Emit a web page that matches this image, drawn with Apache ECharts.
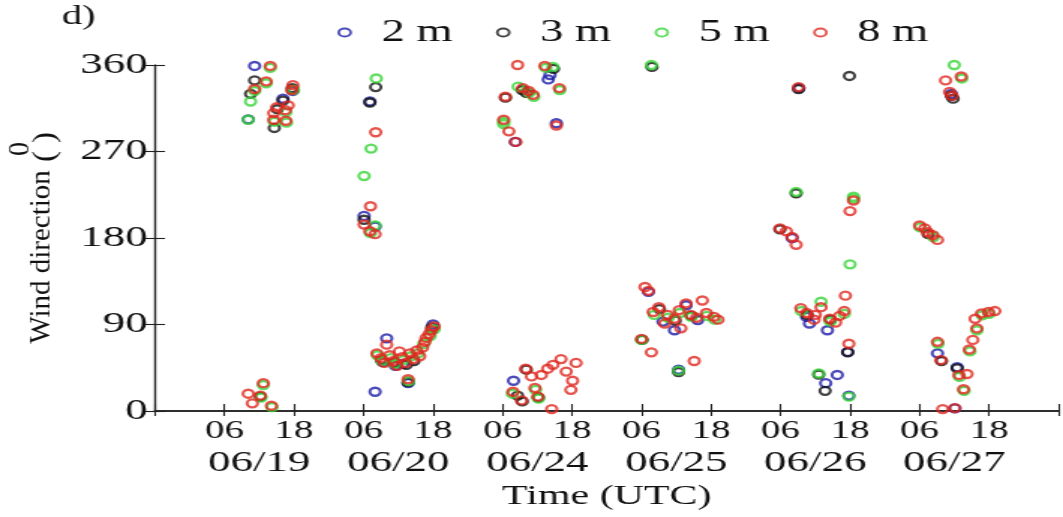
<!DOCTYPE html>
<html>
<head>
<meta charset="utf-8">
<script src="https://cdn.jsdelivr.net/npm/echarts@6/dist/echarts.min.js"></script>
<style>
  html, body { margin: 0; padding: 0; background: #fff; }
  #wrap { width: 1063px; height: 517px; overflow: hidden; position: relative; }
  #chart { width: 709px; height: 517px; transform-origin: 0 0; }
</style>
</head>
<body>
<div id="wrap"><div id="chart"></div></div>
<script>
// Day labels on the time axis (each day spans 24 h of the axis)
const dates = ['06/19', '06/20', '06/24', '06/25', '06/26', '06/27'];
const hourTicks = ['06', '18'];
const heights = ['2 m', '3 m', '5 m', '8 m'];
const colors = ['#1c1ca8', '#111111', '#36d436', '#e0281f'];

// [axis hour, wind direction in degrees]; axis hour 0 = 18 UTC before 06/19,
// each plotted day occupies 24 h, so 06 UTC of day k is 12 + 24k.
const dir2m = [
  [17.2,359],[16.1,303.5],[23.8,333],[22.1,325],
  [37.1,322],[36.1,203],[38.0,192],[38,20],[40,75.6],[39.3,51],[41.5,47],[42.8,49],[43.7,29],[48,90],
  [68.2,349.6],[67.9,345],[62.2,280],[69.3,299.4],[61.9,31.5],
  [85.2,124],[87.7,93],[89.7,84],[93.7,94.7],[91.7,110],[90.4,43],
  [111.2,336],[110,180],[112.5,98],[113,91],[116.1,84],[119.6,61.5],[117.8,37.5],[115.8,29],[119.8,16],
  [137.5,330],[135.1,60],[138.5,45.5],[138.1,2.8]
];
const dir3m = [
  [17.2,344],[16.5,330],[23.7,336],[22.1,323],[21.1,314],[20.6,294.5],[18.2,15],
  [38.1,337],[37.1,321],[36.1,199],[39.1,53],[41.3,50],[43.4,48],[44.7,52],[43.7,30],[47.8,87],
  [68.8,356],[63.4,334],[64.1,331],[60.5,326],[62.6,16],[63.4,10],[64.1,43],[66.2,14],
  [85.8,358],[84.1,74],[87.1,106],[90.4,40.5],[92.6,99],[89.8,94],
  [111.1,335],[119.9,348.6],[110.7,226.5],[107.9,189],[112.6,100],[116.6,95],[119.6,61],[114.6,38],[115.7,21],
  [137.5,328],[137.8,325],[133.5,184],[135.8,52],[138.5,44.4]
];
const dir5m = [
  [19.9,357],[19.2,341],[17.2,333],[16.5,322],[16.1,303],[23.9,334],[22.6,311],[20.6,301],[22.7,300],[18.7,27],[18.3,14],[20.2,4],
  [38.2,346],[37.3,273],[36.1,244.5],[38.0,193],[37.2,185],[38.4,58],[39.2,52],[40.7,55],[41.4,49],[42.9,53],[44.2,57],[45.4,60],[43.8,31],[46.4,70],[47.5,78],[48.2,85],
  [67.5,357],[68.7,358],[62.7,337.5],[64.6,331],[65.4,327],[69.9,334],[60.2,301],[60.2,298.6],[61.7,18],[65.7,22],[66.2,13],
  [85.7,360],[84,74],[86.2,100],[88.6,97],[90.6,102],[92.6,98],[95.3,99],[96.6,95],[90.4,42],
  [110.7,228],[120.6,223],[120.6,221],[120,152.6],[111.6,104],[115,113.7],[116.6,93],[119,101],[114.6,39],[119.8,15],
  [138,360],[139.3,346],[132.1,191],[134.4,181],[135.2,70],[138.9,35.5],[139.7,21],[140.7,62],[141.9,84],[142.8,99.6],[144,101]
];
const dir8m = [
  [19.9,359],[19.2,343],[17.2,335],[23.8,339],[23.6,334],[21.0,316],[22.5,313],[20.5,310],[23.0,318],[20.5,303],[22.6,302],
  [18.7,29],[16.1,18],[18.2,16],[16.8,8],[20.1,5.5],
  [38.1,290],[37.2,213],[36.1,194],[37.1,187],[38.0,184],
  [40,69],[38.3,60],[39,55],[39.6,50],[40.5,58],[41.2,52],[41.8,47],[42.2,62],[42.7,56],[43.3,50],[44,60],[44.6,54],
  [45.2,63],[45.7,57],[46.2,66],[46.6,72],[43.7,33],[47.3,80],[47.7,84],[48.2,88],[46.8,76],
  [62.6,360],[67.3,359],[63.5,336],[64.5,333],[65.3,329],[60.5,327],[69.8,336],[60.2,303],[61.1,291],[62.3,280],[69.3,297],
  [61.8,20],[63.3,11],[64,44],[65,36],[65.6,24],[66.1,15],[66.7,37.5],[67.8,44],[68.7,48],[68.5,2],[70.1,54],[71,41],[72.1,31.5],[71.8,22],[72.7,50],
  [84.6,129],[85.2,125],[84,75],[85.7,61],[86,103],[87,108],[88.5,100],[89.7,96],[90.5,105],[91.7,112],[92.5,100],
  [93.5,97],[94.5,115],[95.2,102],[96.5,98],[97.2,95],[88,91],[90.8,86],[93.1,52],
  [111.1,337],[120.6,219],[120,208],[107.9,190],[109,187],[110,181],[110.7,173],
  [119.2,120],[111.5,107],[112.5,102],[114,100],[115,108],[116.5,96],[117.5,92],[118.2,99],[119,104],[113.8,95],[119.8,70],
  [139.2,348],[136.5,344],[137.2,332],[137.6,328],
  [132,193],[132.9,190],[133.4,186],[134.3,183],[135.1,178],
  [135.1,72],[135.7,53],[138.8,37.5],[140.2,38.5],[139.6,22.6],[136,2],[138.1,3],[140.6,64],[141.2,74],[141.9,86],
  [141.6,96],[142.7,101.6],[143.9,103],[145,104]
];
const seriesData = [dir2m, dir3m, dir5m, dir8m];

// The figure is drawn on a narrower canvas and widened horizontally.
const CANVAS_W = 709;
const SX = 1063 / CANVAS_W;
const el = document.getElementById('chart');
el.style.transform = 'scaleX(' + SX + ')';

const FONT = 'Liberation Serif';
const INK = '#111';
const AXIS_MAX = 24 * dates.length + 12;

// Date row: 12 h categories, the date sits in the middle of each day
const dateRow = [];
for (let i = 0; i < AXIS_MAX / 12; i++) {
  dateRow.push(i % 2 === 1 ? dates[(i - 1) / 2] : '');
}

const lineStyle = { color: '#222', width: 1.5 };
const tickStyle = { color: '#222', width: 1.1 };

const chart = echarts.init(el, null, { renderer: 'canvas' });
chart.setOption({
  animation: false,
  textStyle: { fontFamily: FONT },
  grid: { left: 155 / SX, top: 65, width: (1071 - 155) / SX, height: 346 },
  legend: {
    left: 220, top: 12,
    itemWidth: 39, itemHeight: 8, itemGap: 29,
    selectedMode: false,
    textStyle: { fontSize: 31, color: INK, fontFamily: FONT },
    data: heights.map((h, i) => ({
      name: h, icon: 'circle',
      itemStyle: { color: 'transparent', borderColor: colors[i], borderWidth: 1.8 }
    }))
  },
  xAxis: [
    {
      type: 'value', position: 'bottom', min: 0, max: AXIS_MAX, interval: 12,
      splitLine: { show: false },
      axisLine: { show: true, lineStyle },
      axisTick: { show: true, inside: true, length: 7, lineStyle: tickStyle },
      axisLabel: {
        margin: 7, fontSize: 26, color: INK, fontFamily: FONT,
        formatter: v => (v <= 0 || v >= AXIS_MAX) ? '' : hourTicks[((v - 12) / 12) % 2]
      }
    },
    {
      type: 'value', position: 'top', min: 0, max: AXIS_MAX, interval: 12,
      splitLine: { show: false },
      axisLine: { show: true, lineStyle },
      axisTick: { show: true, inside: true, length: 5, lineStyle: tickStyle },
      axisLabel: { show: false }
    },
    {
      type: 'category', position: 'bottom', data: dateRow,
      axisLine: { show: false }, axisTick: { show: false }, splitLine: { show: false },
      axisLabel: { interval: 0, margin: 37, fontSize: 30, color: INK, fontFamily: FONT },
      name: 'Time (UTC)', nameLocation: 'middle', nameGap: 71,
      nameTextStyle: { fontSize: 28, color: INK, fontFamily: FONT }
    }
  ],
  yAxis: [
    {
      type: 'value', position: 'left', min: 0, max: 360, interval: 90,
      splitLine: { show: false },
      axisLine: { show: true, lineStyle: { color: '#222', width: 1.2 } },
      axisTick: { show: true, inside: true, length: 10 / SX, lineStyle: tickStyle },
      axisLabel: { margin: 5, fontSize: 30, color: INK, fontFamily: FONT }
    },
    {
      type: 'value', position: 'right', min: 0, max: 360, interval: 90,
      splitLine: { show: false },
      axisLine: { show: true, lineStyle: { color: '#222', width: 1.2 } },
      axisTick: { show: true, inside: true, length: 10 / SX, lineStyle: tickStyle },
      axisLabel: { show: false }
    }
  ],
  graphic: [
    {
      type: 'text', left: 62 / SX, top: 3,
      style: { text: 'd)', font: '27px "Liberation Serif"', fill: INK }
    },
    {
      type: 'text', x: 42 / SX, y: 257, rotation: Math.PI / 2, scaleY: 1 / SX,
      style: { text: 'Wind direction', font: '29px "Liberation Serif"', fill: INK,
               align: 'center', verticalAlign: 'middle' }
    },
    {
      type: 'text', x: 46 / SX, y: 147, rotation: Math.PI / 2, scaleY: 1 / SX,
      style: { text: '( )', font: '33px "Liberation Serif"', fill: INK,
               align: 'center', verticalAlign: 'middle' }
    },
    {
      type: 'text', x: 21 / SX, y: 149, rotation: Math.PI / 2, scaleY: 1 / SX,
      style: { text: '0', font: '28px "Liberation Serif"', fill: INK,
               align: 'center', verticalAlign: 'middle' }
    }
  ],
  series: heights.map((h, i) => ({
    name: h, type: 'scatter', xAxisIndex: 0, yAxisIndex: 0,
    data: seriesData[i],
    symbol: 'circle', symbolSize: [7, 8],
    itemStyle: { color: 'transparent', borderColor: colors[i], borderWidth: 2.2 },
    emphasis: { disabled: true },
    z: 2 + i
  }))
});
</script>
</body>
</html>
